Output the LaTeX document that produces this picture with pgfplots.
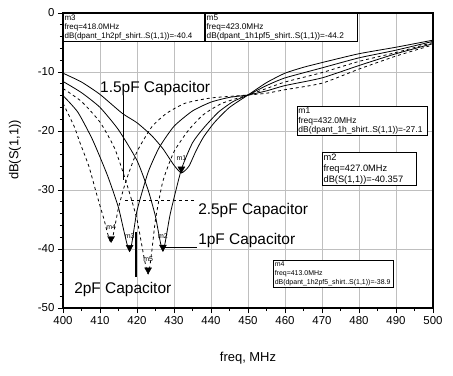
\documentclass[border=0pt]{standalone}
\usepackage{fontspec}
\setmainfont{Liberation Sans}
\usepackage{pgfplots}
\pgfplotsset{compat=1.18}
\begin{document}
\begin{tikzpicture}[x=1bp,y=1bp]
\useasboundingbox (-63,-67) rectangle (390,308);
\begin{axis}[at={(0,0)}, anchor=south west, scale only axis,
  width=370bp, height=295bp,
  xmin=400, xmax=500, ymin=-50, ymax=0,
  xtick={400,410,...,500}, ytick={-50,-40,...,0},
  minor x tick num=1, minor y tick num=4,
  tick align=outside, tick pos=left,
  major tick length=5bp, minor tick length=3bp,
  tick style={black, line width=0.8bp},
  grid=major, major grid style={black!25, line width=0.8bp},
  axis line style={line width=1.2bp},
  ticklabel style={font=\fontsize{11.5}{12}\selectfont},
  /pgf/number format/assume math mode=true,
  clip=true]
% m1: no capacitor
\addplot[black, line width=0.8bp, smooth, tension=0.35] coordinates {
(400,-10.2) (405,-11.7) (410,-13.8) (416,-17) (420,-18.6) (424,-20.8) (427,-23) (430,-25.8) (432,-27.1) (434,-26) (436,-23.3) (438,-21) (441,-18.5) (445,-16) (450,-13.9) (455,-11.8) (460,-10.2) (465,-9.2) (470,-8.4) (480,-6.9) (490,-5.8) (500,-4.6)};
% m2: 1pF
\addplot[black, line width=0.8bp, smooth, tension=0.35] coordinates {
(400,-11.6) (405,-13.5) (410,-16) (415,-19.8) (420,-25) (423,-30) (425,-34.5) (427,-40.357) (429,-34) (432,-26.5) (435,-22) (438,-19.5) (442,-16.8) (446,-15) (450,-13.9) (455,-12.3) (460,-11) (470,-9.3) (480,-7.6) (490,-6.3) (500,-4.8)};
% m5: 1.5pF
\addplot[black, line width=0.8bp, dashed, smooth, tension=0.35] coordinates {
(400,-12.8) (405,-15) (410,-18.5) (414,-23) (417.2,-28.9) (420,-35) (423,-44.2) (425,-35) (427,-28.5) (430,-23.5) (434,-19.8) (438,-17.2) (443,-15.3) (450,-13.9) (455,-12.8) (460,-11.7) (470,-10.1) (480,-8.2) (490,-6.7) (500,-5.0)};
% m3: 2pF
\addplot[black, line width=0.8bp, smooth, tension=0.35] coordinates {
(400,-14) (404,-16.8) (408,-21.5) (412,-27.5) (415,-33) (418,-40.4) (420,-33.5) (423,-27) (426,-22.8) (430,-19.2) (435,-16.6) (440,-15.1) (445,-14.3) (450,-13.9) (455,-13.2) (460,-12.3) (470,-11) (480,-8.9) (490,-6.9) (500,-5.2)};
% m4: 2.5pF
\addplot[black, line width=0.8bp, dashed, smooth, tension=0.35] coordinates {
(400,-15.3) (403,-19.2) (404.6,-22) (407,-26) (409,-30.5) (411,-34.8) (413,-38.9) (415,-33) (417,-28.5) (420,-23.5) (424,-19.3) (428,-17) (433,-15.3) (440,-14.4) (450,-13.9) (455,-13.6) (460,-13) (470,-11.9) (480,-9.5) (490,-7.3) (500,-5.4)};
% markers
\addplot[only marks, mark=triangle*, mark size=4bp, mark options={yshift=4bp, rotate=180, fill=black, draw=black}] coordinates {
(432,-27.1) (427,-40.357) (418,-40.4) (413,-38.9) (423,-44.2)};
\begin{scope}[font=\fontsize{7}{7}\selectfont]
\node[yshift=15bp] at (axis cs:432,-27.1) {m1};
\node[yshift=15bp] at (axis cs:427,-40.357) {m2};
\node[yshift=15bp] at (axis cs:418,-40.4) {m3};
\node[yshift=15bp] at (axis cs:413,-38.9) {m4};
\node[yshift=15bp] at (axis cs:423,-44.2) {m5};
\end{scope}
% annotations
\draw[line width=0.8bp] (axis cs:416.2,-13.9) -- (axis cs:416.2,-28.3);
\draw[line width=2.2bp] (axis cs:419.7,-37.1) -- (axis cs:419.7,-44.7);
\draw[line width=0.8bp] (axis cs:427.6,-39.7) -- (axis cs:436.2,-39.7);
\draw[line width=0.8bp, dashed] (axis cs:416.8,-31.7) -- (axis cs:435.7,-31.7);
\begin{scope}[font=\fontsize{15.5}{16}\selectfont, inner sep=0pt]
\node[anchor=base west] at (axis cs:410,-13.4) {1.5pF Capacitor};
\node[anchor=base west] at (axis cs:436.5,-34.2) {2.5pF Capacitor};
\node[anchor=base west] at (axis cs:436.5,-39.3) {1pF Capacitor};
\node[anchor=base west] at (axis cs:403,-47.6) {2pF Capacitor};
\end{scope}
% marker boxes
\node[draw, line width=0.8bp, fill=white, anchor=north west, inner sep=1.2bp, align=left,
  text width=139bp, font=\fontsize{8}{9}\selectfont] at (axis cs:400,0) {m3\\freq=418.0MHz\\dB(dpant\_1h2pf\_shirt..S(1,1))=-40.4};
\node[draw, line width=0.8bp, fill=white, anchor=north west, inner sep=1.2bp, align=left,
  text width=150bp, font=\fontsize{8.3}{9}\selectfont] at (axis cs:438.4,0) {m5\\freq=423.0MHz\\dB(dpant\_1h1pf5\_shirt..S(1,1))=-44.2};
\node[draw, line width=0.8bp, fill=white, anchor=north west, inner sep=1.2bp, align=left,
  text width=128bp, font=\fontsize{8.5}{9.5}\selectfont] at (axis cs:463.2,-15.8) {m1\\freq=432.0MHz\\dB(dpant\_1h\_shirt..S(1,1))=-27.1};
\node[draw, line width=0.8bp, fill=white, anchor=north west, inner sep=1.2bp, align=left,
  text width=92bp, font=\fontsize{9.3}{11}\selectfont] at (axis cs:470,-23.6) {m2\\freq=427.0MHz\\dB(S(1,1))=-40.357};
\node[draw, line width=0.8bp, fill=white, anchor=north west, inner sep=1.2bp, align=left,
  text width=117bp, font=\fontsize{7}{9}\selectfont] at (axis cs:456.8,-41.9) {m4\\freq=413.0MHz\\dB(dpant\_1h2pf5\_shirt..S(1,1))=-38.9};
\end{axis}
\node[font=\fontsize{13}{13}\selectfont] at (185,-50) {freq, MHz};
\node[font=\fontsize{13}{13}\selectfont, rotate=90] at (-48,158) {dB(S(1,1))};
\end{tikzpicture}
\end{document}
